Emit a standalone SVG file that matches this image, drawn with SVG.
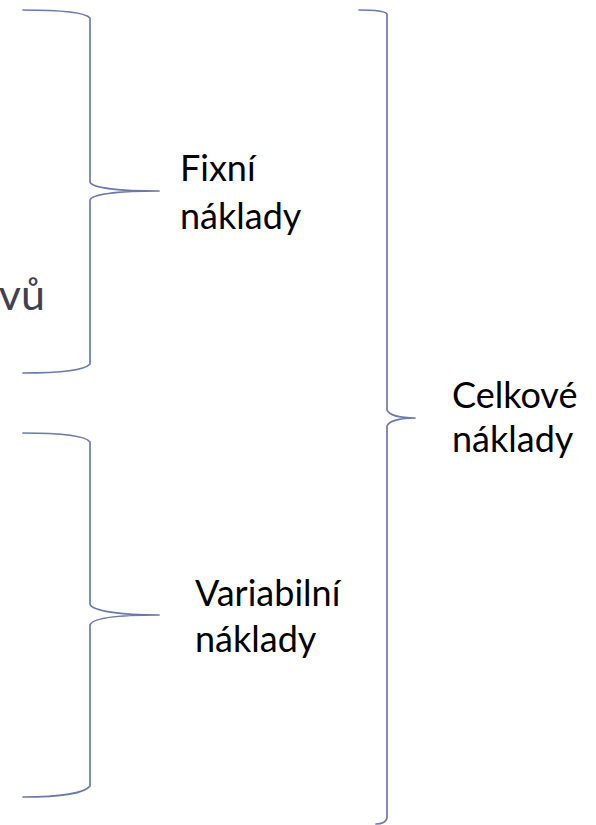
<svg xmlns="http://www.w3.org/2000/svg" width="596" height="825" viewBox="0 0 596 825">
<style>
.br{fill:none;stroke:#6c7aab;stroke-width:1.7;stroke-linecap:round;stroke-linejoin:round}
.t{font-family:Lato,"Open Sans","Liberation Sans",sans-serif;font-size:36px;fill:#000}
.g{font-family:Lato,"Open Sans","Liberation Sans",sans-serif;font-size:43px;fill:#404050}
</style>
<rect width="596" height="825" fill="#fff"/>
<g id="connectors">
<path class="br" d="M23,10 C60,10 85,12 90,18 L90,182 C92,188 120,191 159,191 C120,191 92,194 90,200 L90,364 C85,370 60,373 23,373"/>
<path class="br" d="M23,433 C60,433 85,435 90,442 L90,604 C92,611 120,615 159,615 C120,615 92,618 90,625 L90,786 C85,793 60,797 23,797"/>
<path class="br" d="M359,10 C375,10 385,11 387,14 L387,410 C389,415 400,418 415,418 C400,418 389,421 387,426 L387,818 C386,822 382,824 376,824"/>
</g>
<g id="left-label"><text class="g" x="45" y="310" text-anchor="end">vů</text></g>
<g id="fixni"><text class="t" x="180" y="181">Fixní</text><text class="t" x="180" y="229">náklady</text></g>
<g id="variabilni"><text class="t" x="195" y="606">Variabilní</text><text class="t" x="195" y="652">náklady</text></g>
<g id="celkove"><text class="t" x="452" y="408">Celkové</text><text class="t" x="452" y="452">náklady</text></g>
</svg>
